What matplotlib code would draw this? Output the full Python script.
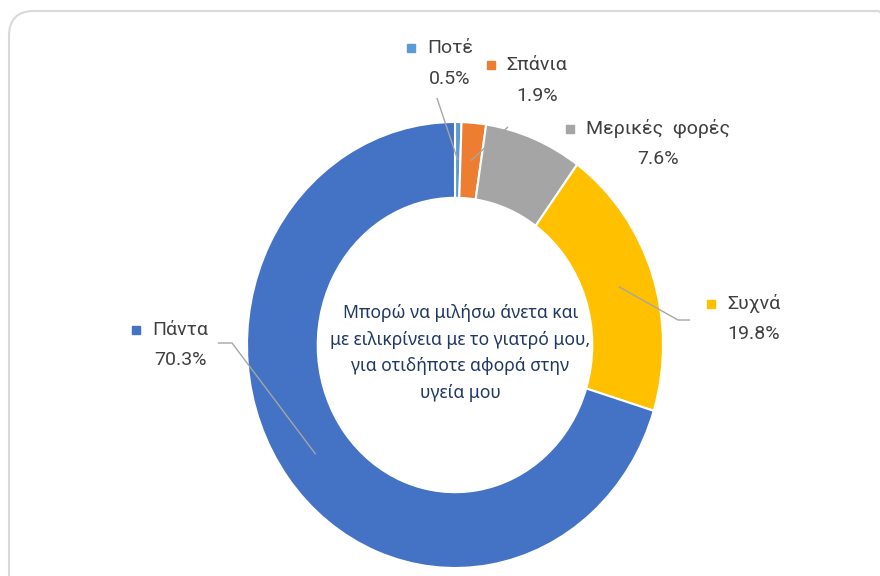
import matplotlib
matplotlib.use("Agg")
import matplotlib.pyplot as plt
import numpy as np
from matplotlib.patches import FancyBboxPatch
from matplotlib.transforms import IdentityTransform

# data
categories = ["Ποτέ", "Σπάνια", "Μερικές  φορές", "Συχνά", "Πάντα"]
values = [0.5, 1.9, 7.6, 19.8, 70.3]
colors = ["#5B9BD5", "#ED7D31", "#A5A5A5", "#FFC000", "#4472C4"]
center_text = "Μπορώ να μιλήσω άνετα και\nμε ειλικρίνεια με το γιατρό μου,\nγια οτιδήποτε αφορά στην\nυγεία μου"

# label layout (centre of the two-line block, in donut units) and leader line anchors
label_pos = [(-0.024, 1.262), (0.394, 1.186), (0.976, 0.901), (1.438, 0.116), (-1.322, 0.0)]
leader_end = [(-0.087, 1.108, None), (0.255, 0.978, None), None,
              (1.072, 0.112, 1.13), (-1.072, 0.009, -1.14)]

W, H = 880, 576
fig = plt.figure(figsize=(W / 100, H / 100), dpi=100)

# card frame
frame = FancyBboxPatch((9, -24), 894, 589, boxstyle="round,pad=0,rounding_size=25",
                       transform=IdentityTransform(), facecolor="none",
                       edgecolor="#d9d9d9", linewidth=1.5, zorder=-1)
fig.patches.append(frame)

ax = fig.add_axes([0, 0, 1, 1])
ax.patch.set_visible(False)
cx, cy, rx, ry = 455, 345, 208, 223
wedges, _ = ax.pie(values, colors=colors, startangle=90, counterclock=False, radius=1,
                   wedgeprops=dict(width=0.34, edgecolor="white", linewidth=1.5))
ax.set_aspect("auto")
ax.set_xlim(-cx / rx, (W - cx) / rx)
ax.set_ylim(-(H - cy) / ry, cy / ry)
ax.axis("off")

label_font = dict(family=["Roboto", "DejaVu Sans"], fontsize=14, color="#404040")

name_texts = []
for i, (name, v) in enumerate(zip(categories, values)):
    x, y = label_pos[i]
    t1 = ax.annotate(name, xy=(x, y), xytext=(0, 11), textcoords="offset points",
                     ha="center", va="center", **label_font)
    ax.annotate(f"{v}%", xy=(x, y), xytext=(0, -11), textcoords="offset points",
                ha="center", va="center", **label_font)
    name_texts.append(t1)

    # leader line from the middle of the ring
    if leader_end[i] is not None:
        theta = np.deg2rad(90 - 3.6 * (sum(values[:i]) + v / 2))
        r_mid = 0.83
        x0, y0 = r_mid * np.cos(theta), r_mid * np.sin(theta)
        lx, ly, hx = leader_end[i]
        xs, ys = [x0, lx], [y0, ly]
        if hx is not None:
            xs.append(hx)
            ys.append(ly)
        ax.plot(xs, ys, color="#a6a6a6", lw=1.0, solid_capstyle="butt")

# legend keys to the left of each category name
fig.canvas.draw()
renderer = fig.canvas.get_renderer()
inv = ax.transData.inverted()
for t, c in zip(name_texts, colors):
    bb = t.get_window_extent(renderer)
    mx, my = inv.transform((bb.x0 - 16, (bb.y0 + bb.y1) / 2))
    ax.plot(mx, my, marker="s", markersize=6, color=c, clip_on=False)

ax.text(0.025, -0.036, center_text, ha="center", va="center", linespacing=1.63,
        family=["Noto Sans", "DejaVu Sans"], fontsize=12.6, color="#203864")

fig.savefig("out.png", dpi=100)
